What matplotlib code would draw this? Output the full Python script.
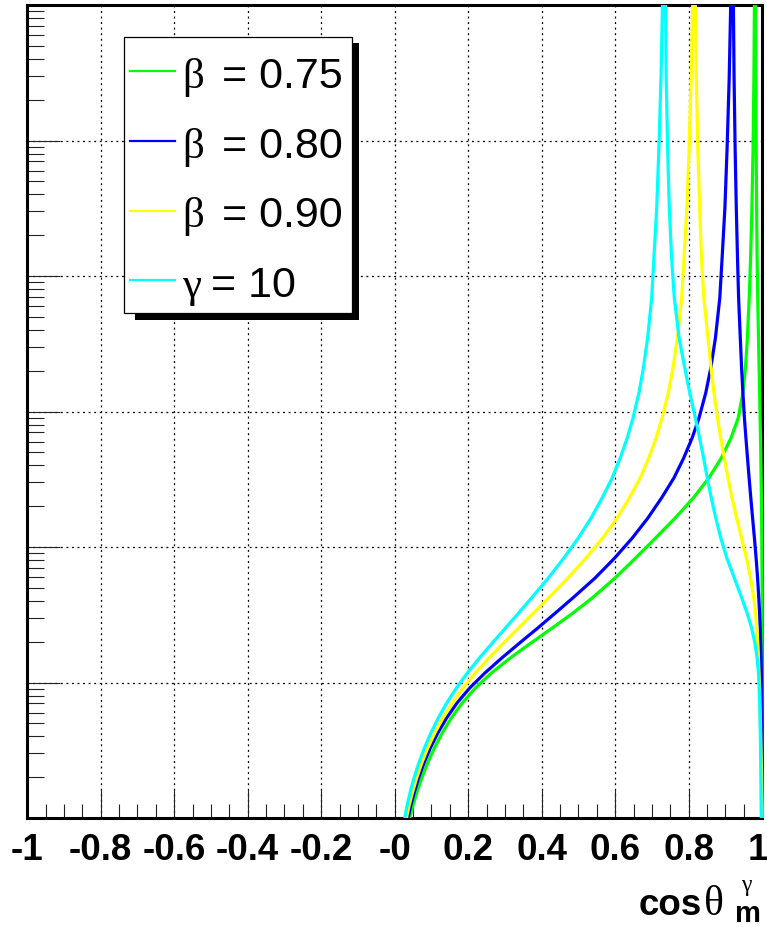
import matplotlib
matplotlib.use("Agg")
import matplotlib.pyplot as plt
from matplotlib.patches import Rectangle
from matplotlib.lines import Line2D
from matplotlib.ticker import FixedLocator, LogLocator, NullFormatter
from matplotlib.transforms import ScaledTranslation

plt.rcParams["font.family"] = ["Liberation Sans", "DejaVu Sans"]
plt.rcParams["lines.scale_dashes"] = False

W, H = 767, 927

# ---- data -------------------------------------------------------------
# density levels along the rising branch (bottom -> pole)
dens_rise = [5e-4, 1.022e-3, 1.226e-3, 1.529e-3, 1.973e-3, 2.546e-3, 3.285e-3,
             4.240e-3, 5.470e-3, 7.058e-3, 9.108e-3, 0.01175, 0.01517, 0.01957,
             0.02525, 0.03258, 0.04204, 0.05904, 0.08294, 0.1165, 0.1637,
             0.2299, 0.3229, 0.4536, 0.6372, 0.8954, 1.369, 2.094, 3.486,
             6.880, 13.58, 31.76, 88.05, 289.2, 1000, 3000]
# density levels along the falling branch (pole -> cos = 1)
dens_fall = [3000, 1000, 289.2, 88.05, 31.76, 13.58, 6.880, 3.486, 2.094,
             1.369, 0.8954, 0.6372, 0.4536, 0.3229, 0.2299, 0.1637, 0.1165,
             0.08294, 0.05904, 0.04204, 0.03258, 0.02525, 0.01957, 0.01517,
             0.01175, 9.108e-3, 7.058e-3, 5.470e-3, 4.240e-3, 3.285e-3,
             2.546e-3, 1.973e-3, 1.529e-3, 1.226e-3, 1.022e-3, 1e-4]

cos_rise_b075 = [0.0253, 0.0416, 0.0493, 0.0597, 0.0735, 0.0895, 0.1080, 0.1293,
                 0.1540, 0.1837, 0.2196, 0.2631, 0.3143, 0.3709, 0.4288, 0.4852,
                 0.5374, 0.5995, 0.6555, 0.7099, 0.7633, 0.8125, 0.8547, 0.8887,
                 0.9151, 0.9347, 0.9476, 0.9544, 0.9597, 0.9646, 0.9684, 0.9720,
                 0.9752, 0.9774, 0.9788, 0.9793]
cos_fall_b075 = [0.9807, 0.9818, 0.9826, 0.9837, 0.9848, 0.9861, 0.9878, 0.9899,
                 0.9916, 0.9929, 0.9943, 0.9954, 0.9962, 0.9970, 0.9978, 0.9984,
                 0.9989, 0.9993, 0.9997, 1.0, 1.0, 1.0, 1.0, 1.0, 1.0, 1.0, 1.0,
                 1.0, 1.0, 1.0, 1.0, 1.0, 1.0, 1.0, 1.0, 1.0]

cos_rise_b080 = [0.0220, 0.0370, 0.0434, 0.0527, 0.0650, 0.0797, 0.0969, 0.1173,
                 0.1412, 0.1695, 0.2041, 0.2454, 0.2914, 0.3399, 0.3894, 0.4373,
                 0.4846, 0.5453, 0.5986, 0.6465, 0.6890, 0.7260, 0.7597, 0.7864,
                 0.8093, 0.8280, 0.8463, 0.8601, 0.8727, 0.8846, 0.8909, 0.8985,
                 0.9045, 0.9102, 0.9143, 0.9181]
cos_fall_b080 = [0.9203, 0.9216, 0.9235, 0.9263, 0.9295, 0.9328, 0.9358, 0.9404,
                 0.9439, 0.9475, 0.9516, 0.9557, 0.9600, 0.9644, 0.9690, 0.9739,
                 0.9788, 0.9834, 0.9875, 0.9907, 0.9929, 0.9946, 0.9959, 0.9970,
                 0.9978, 0.9985, 0.9990, 0.9995, 0.9997, 0.9999, 1.0, 1.0, 1.0,
                 1.0, 1.0, 1.0]

cos_rise_b090 = [0.0182, 0.0327, 0.0388, 0.0478, 0.0596, 0.0736, 0.0899, 0.1091,
                 0.1310, 0.1565, 0.1859, 0.2190, 0.2566, 0.2963, 0.3371, 0.3780,
                 0.4185, 0.4713, 0.5208, 0.5657, 0.6054, 0.6384, 0.6680, 0.6912,
                 0.7113, 0.7276, 0.7445, 0.7573, 0.7693, 0.7810, 0.7872, 0.7951,
                 0.8011, 0.8068, 0.8109, 0.8147]
cos_fall_b090 = [0.8171, 0.8182, 0.8207, 0.8248, 0.8299, 0.8348, 0.8411, 0.8525,
                 0.8607, 0.8688, 0.8784, 0.8871, 0.8969, 0.9069, 0.9178, 0.9306,
                 0.9437, 0.9573, 0.9682, 0.9771, 0.9818, 0.9853, 0.9878, 0.9897,
                 0.9913, 0.9927, 0.9937, 0.9948, 0.9959, 0.9967, 0.9976, 0.9984,
                 0.9989, 0.9995, 0.9997, 1.0]

cos_rise_g10 = [0.0136, 0.0280, 0.0335, 0.0416, 0.0525, 0.0656, 0.0808, 0.0985,
                0.1186, 0.1415, 0.1679, 0.1976, 0.2307, 0.2656, 0.3015, 0.3371,
                0.3722, 0.4180, 0.4604, 0.4996, 0.5344, 0.5644, 0.5918, 0.6136,
                0.6327, 0.6484, 0.6645, 0.6767, 0.6882, 0.6993, 0.7053, 0.7129,
                0.7189, 0.7246, 0.7287, 0.7325]
cos_fall_g10 = [0.7352, 0.7369, 0.7388, 0.7426, 0.7472, 0.7535, 0.7608, 0.7739,
                0.7894, 0.8030, 0.8180, 0.8297, 0.8405, 0.8506, 0.8615, 0.8737,
                0.8873, 0.9037, 0.9241, 0.9445, 0.9589, 0.9712, 0.9801, 0.9861,
                0.9899, 0.9918, 0.9932, 0.9940, 0.9948, 0.9954, 0.9959, 0.9963,
                0.9967, 0.9971, 0.9976, 1.0]

legend_symbols = ["β", "β", "β", "γ"]
legend_values = ["= 0.75", "= 0.80", "= 0.90", "= 10"]
colors = ["#00ff00", "#0000ff", "#ffff00", "#00ffff"]

x_ticks = [-1.0, -0.8, -0.6, -0.4, -0.2, 0.0, 0.2, 0.4, 0.6, 0.8, 1.0]
x_tick_labels = ["-1", "-0.8", "-0.6", "-0.4", "-0.2", "-0",
                 "0.2", "0.4", "0.6", "0.8", "1"]

series = [
    (cos_rise_b075 + cos_fall_b075, dens_rise + dens_fall),
    (cos_rise_b080 + cos_fall_b080, dens_rise + dens_fall),
    (cos_rise_b090 + cos_fall_b090, dens_rise + dens_fall),
    (cos_rise_g10 + cos_fall_g10, dens_rise + dens_fall),
]


def fpos(x, y):
    """pixel position -> figure fraction"""
    return x / W, 1 - y / H


# ---- figure & axes ----------------------------------------------------
fig = plt.figure(figsize=(W / 100, H / 100), dpi=100)
ax_l, ax_r, ax_t, ax_b = 27.2, 762.2, 5.0, 818.0
ax = fig.add_axes([ax_l / W, 1 - ax_b / H, (ax_r - ax_l) / W, (ax_b - ax_t) / H])
ax.set_yscale("log")
ax.set_xlim(-1, 1)
ax.set_ylim(1e-3, 1e3)

ax.grid(True, which="major", color="black", linestyle=(0, (1.4, 2.6)),
        linewidth=0.9, zorder=1)
ax.set_axisbelow(True)

clip_rect = Rectangle((0, 0), 1.004, 1, transform=ax.transAxes)
for (xs, ys), c in zip(series, colors):
    ln, = ax.plot(xs, ys, color=c, lw=2.3, zorder=3,
                  solid_joinstyle="round", solid_capstyle="butt")
    ln.set_clip_path(clip_rect)

# ticks
ax.xaxis.set_major_locator(FixedLocator(x_ticks))
ax.set_xticklabels(x_tick_labels, fontsize=26.5, fontweight="bold")
ax.xaxis.set_minor_locator(FixedLocator([i * 0.05 - 1 for i in range(41)]))
ax.tick_params(axis="x", which="major", direction="in", length=20, width=0.8,
               color="#222222", top=False, bottom=True, pad=10.5)
ax.tick_params(axis="x", which="minor", direction="in", length=10, width=0.8,
               color="#222222", top=False, bottom=True)
# keep the last label inside the canvas
last = ax.get_xticklabels()[-1]
last.set_transform(last.get_transform() + ScaledTranslation(-4 / 100, 0, fig.dpi_scale_trans))

ax.yaxis.set_major_locator(LogLocator(base=10, numticks=20))
ax.yaxis.set_minor_locator(LogLocator(base=10, subs=range(2, 10), numticks=200))
ax.yaxis.set_minor_formatter(NullFormatter())
ax.tick_params(axis="y", which="major", direction="in", length=24, width=0.8,
               color="#222222", left=True, right=False, labelleft=False)
ax.tick_params(axis="y", which="minor", direction="in", length=12, width=0.8,
               color="#222222", left=True, right=False, labelleft=False)

for s in ax.spines.values():
    s.set_linewidth(2.2)
    s.set_color("black")
    s.set_zorder(2.5)

# ---- legend ---------------------------------------------------------------
bx0, by0, bx1, by1 = 124.3, 36.7, 352.3, 313.3
sx0, sy0 = fpos(135, 320)
sx1, sy1 = fpos(358.5, 43)
fig.add_artist(Rectangle((sx0, sy0), sx1 - sx0, sy1 - sy0,
                         transform=fig.transFigure, facecolor="black",
                         edgecolor="none", zorder=5))
lx0, ly0 = fpos(bx0, by1)
lx1, ly1 = fpos(bx1, by0)
fig.add_artist(Rectangle((lx0, ly0), lx1 - lx0, ly1 - ly0,
                         transform=fig.transFigure, facecolor="white",
                         edgecolor="black", linewidth=0.9, zorder=6))

row_y = [71, 141, 210.5, 280]
row_base = [87.7, 158.3, 227.3, 296.7]
sym_gap = {"β": 18, "γ": 10}
renderer = fig.canvas.get_renderer()
for sym, val, c, yl, yb in zip(legend_symbols, legend_values, colors, row_y, row_base):
    xa, ya = fpos(130, yl)
    xb, _ = fpos(175, yl)
    fig.add_artist(Line2D([xa, xb], [ya, ya], transform=fig.transFigure,
                          color=c, lw=1.6, zorder=7))
    tx, ty = fpos(182, yb)
    t = fig.text(tx, ty, sym, fontsize=31, family=["Liberation Serif", "DejaVu Serif"],
                 ha="left", va="baseline", zorder=7)
    bb = t.get_window_extent(renderer)
    fig.text((bb.x1 + sym_gap[sym]) / W, ty, val, fontsize=31, ha="left",
             va="baseline", zorder=7)

# ---- axis title -------------------------------------------------------
cx, cy = fpos(639, 915)
fig.text(cx, cy, "cos", fontsize=26.5, fontweight="bold", ha="left", va="baseline")
tx, ty = fpos(704, 915)
fig.text(tx, ty, "θ", fontsize=30, family=["Liberation Serif", "DejaVu Serif"],
         ha="left", va="baseline")
gx, gy = fpos(741, 891)
fig.text(gx, gy, "γ", fontsize=17, family=["Liberation Serif", "DejaVu Serif"],
         ha="left", va="baseline")
mx, my = fpos(735, 922)
fig.text(mx, my, "m", fontsize=21, fontweight="bold", ha="left", va="baseline")

fig.savefig("out.png", dpi=100, facecolor="white")
